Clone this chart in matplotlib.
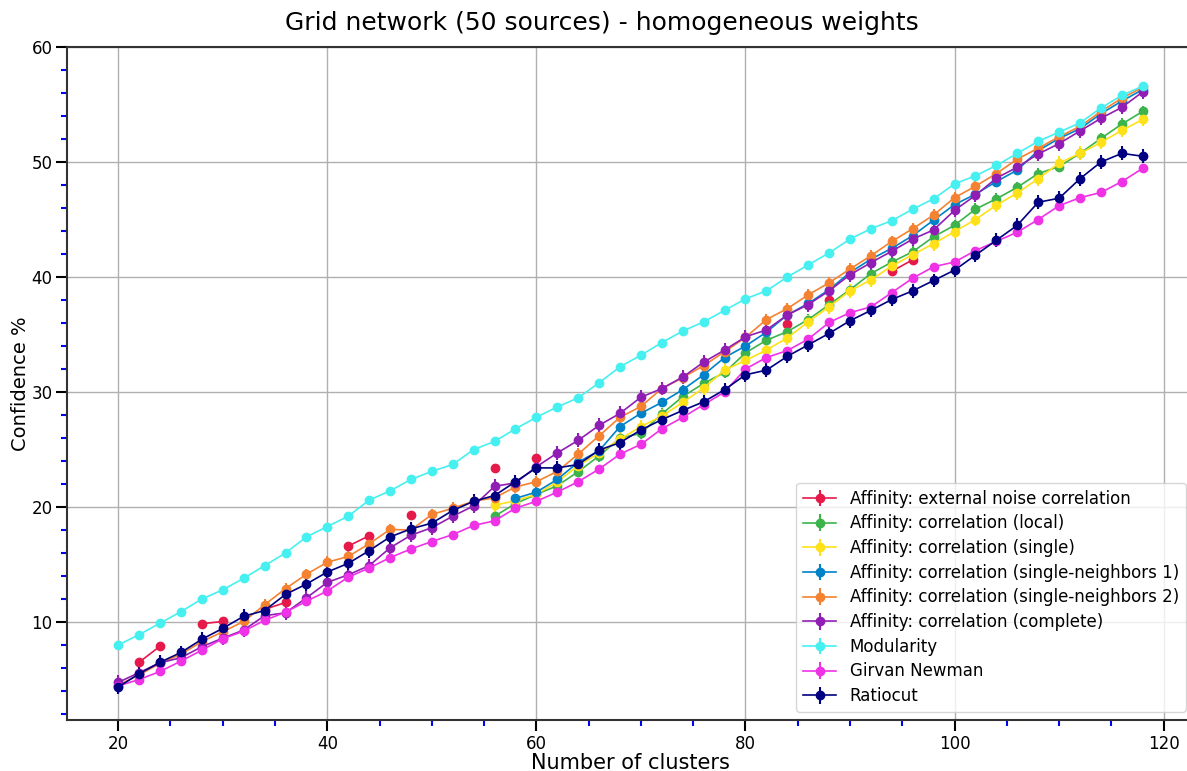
import numpy as np
from matplotlib import pyplot as plt
from matplotlib.ticker import MultipleLocator

nan = np.nan
clusters = list(range(20, 120, 2))

noise_corr = [nan, 6.5, 7.9, nan, 9.85, 10.05, nan, 11.1, 11.7, nan,
              nan, 16.6, 17.5, nan, 19.3, nan, nan, nan, 23.4, nan,
              24.3, nan, nan, nan, nan, nan, nan, nan, nan, nan,
              nan, nan, 35.9, nan, 38.0, nan, nan, 40.5, 41.5, nan,
              nan, nan, nan, nan, nan, nan, nan, nan, nan, nan]
corr_local = [nan]*18 + [19.2, 20.3, 21.1, 21.85, 23.07, 24.45, 26.0, 26.4, 28.1, 29.6,
              30.75, 31.7, 33.4, 34.5, 35.25, 36.3, 37.6, 38.9, 40.3, 41.3,
              42.2, 43.5, 44.5, 45.9, 46.8, 47.8, 49.0, 49.6, 50.75, 52.05,
              53.3, 54.4]
corr_single = [nan]*18 + [20.15, 20.55, 21.1, 22.2, 23.6, 24.7, 25.9, 27.0, 27.9, 29.1,
               30.35, 31.9, 32.75, 33.65, 34.7, 36.1, 37.42, 38.8, 39.75, 40.95,
               41.95, 42.9, 43.95, 45.0, 46.25, 47.3, 48.55, 49.9, 50.75, 51.7,
               52.75, 53.7]
corr_nb1 = [nan]*19 + [20.75, 21.3, 22.4, 23.9, 24.9, 27.0, 28.15, 29.1, 30.2, 31.5,
            33.0, 34.0, 35.2, 36.7, 37.7, 38.9, 40.4, 41.55, 42.5, 43.6,
            44.95, 46.3, 47.2, 48.3, 49.3, 51.0, 52.05, 52.9, 54.2, 55.3,
            56.3]
corr_nb2 = [4.5, 5.4, 6.4, 7.2, 8.3, 9.15, 10.05, 11.5, 12.9, 14.15,
            15.2, 15.7, 16.8, 18.05, 18.0, 19.35, 19.9, 20.5, 20.8, 21.75,
            22.2, 23.1, 24.6, 26.2, 27.8, 28.75, 30.3, 31.25, 32.3, 33.5,
            34.75, 36.3, 37.25, 38.45, 39.5, 40.7, 41.85, 43.1, 44.2, 45.4,
            46.9, 47.9, 49.0, 50.25, 51.2, 52.2, 53.1, 54.4, 55.55, 56.5]
corr_complete = [4.75, 5.6, 6.45, 6.9, 7.85, 8.6, 9.3, 10.55, 10.8, 12.1,
                 13.45, 14.1, 14.9, 16.45, 17.55, 18.2, 19.2, 20.1, 21.8, 22.1,
                 23.5, 24.7, 25.8, 27.1, 28.15, 29.55, 30.3, 31.3, 32.6, 33.65,
                 34.8, 35.4, 36.7, 37.6, 38.8, 40.2, 41.25, 42.25, 43.3, 44.1,
                 45.8, 47.1, 48.6, 49.55, 50.7, 51.6, 52.7, 53.8, 54.75, 56.1]
modularity = [8.0, 8.9, 9.9, 10.9, 12.0, 12.8, 13.8, 14.9, 16.0, 17.4,
              18.3, 19.2, 20.6, 21.4, 22.4, 23.1, 23.7, 25.0, 25.7, 26.8,
              27.8, 28.7, 29.5, 30.8, 32.2, 33.2, 34.3, 35.3, 36.1, 37.1,
              38.1, 38.8, 40.0, 41.05, 42.1, 43.3, 44.2, 44.9, 45.9, 46.8,
              48.1, 48.8, 49.7, 50.75, 51.8, 52.6, 53.4, 54.7, 55.8, 56.6]
girvan_newman = [4.45, 5.0, 5.7, 6.6, 7.55, 8.55, 9.2, 10.15, 10.85, 11.8,
                 12.7, 13.9, 14.7, 15.6, 16.35, 17.0, 17.6, 18.4, 18.8, 19.9,
                 20.5, 21.3, 22.2, 23.3, 24.6, 25.45, 26.8, 27.8, 28.9, 30.0,
                 32.0, 33.0, 33.6, 34.6, 36.05, 36.9, 37.4, 38.65, 39.9, 40.9,
                 41.3, 42.3, 43.1, 43.9, 45.0, 46.2, 46.9, 47.35, 48.3, 49.45]
ratiocut = [4.35, 5.5, 6.5, 7.35, 8.5, 9.45, 10.5, 11.0, 12.4, 13.3,
            14.35, 15.1, 16.2, 17.4, 18.1, 18.6, 19.7, 20.5, 21.0, 22.2,
            23.4, 23.4, 23.7, 24.95, 25.6, 26.7, 27.6, 28.4, 29.15, 30.2,
            31.5, 31.9, 33.1, 34.1, 35.1, 36.2, 37.1, 38.05, 38.8, 39.7,
            40.6, 41.9, 43.2, 44.5, 46.5, 46.85, 48.55, 50.0, 50.75, 50.5]

labels = ['Affinity: external noise correlation',
          'Affinity: correlation (local)',
          'Affinity: correlation (single)',
          'Affinity: correlation (single-neighbors 1)',
          'Affinity: correlation (single-neighbors 2)',
          'Affinity: correlation (complete)',
          'Modularity',
          'Girvan Newman',
          'Ratiocut']
series = [noise_corr, corr_local, corr_single, corr_nb1, corr_nb2,
          corr_complete, modularity, girvan_newman, ratiocut]
errors = [0.3, 0.5, 0.6, 0.4, 0.5, 0.6, 0.15, 0.2, 0.6]
colors = ['#e6194b', '#3cb44b', '#ffe119', '#0082c8', '#f58231',
          '#911eb4', '#46f0f0', '#f032e6', '#000080']

fig = plt.figure(figsize=(11.87, 7.71), dpi=100)
# axes run slightly past the right edge, as in the cropped original
ax = fig.add_axes([67/1187, 51/771, 1127/1187, 673/771])

for vals, err, col, lab in zip(series, errors, colors, labels):
    ax.errorbar(clusters, vals, yerr=err, color=col, marker='o',
                markersize=6, lw=1.2, elinewidth=1.5, label=lab)

ax.set_xlim(15.1, 122.9)
ax.set_ylim(1.48, 60)
ax.xaxis.set_major_locator(MultipleLocator(20))
ax.xaxis.set_minor_locator(MultipleLocator(5))
ax.yaxis.set_major_locator(MultipleLocator(10))
ax.yaxis.set_minor_locator(MultipleLocator(2))
ax.tick_params(which='major', length=8, width=1.5, labelsize=12, pad=2.5)
ax.tick_params(which='minor', length=4, width=1.5, color='blue')
ax.grid(True, which='major', color='#b0b0b0', lw=1)
for s in ax.spines.values():
    s.set_linewidth(1.5)
    s.set_color('#333333')

ax.set_title('Grid network (50 sources) - homogeneous weights', fontsize=18,
             pad=12, x=0.475)
ax.set_xlabel('Number of clusters', fontsize=15, labelpad=0)
ax.set_ylabel('Confidence %', fontsize=14, labelpad=1)
ax.legend(loc='lower right', fontsize=12, labelspacing=0.4,
          bbox_to_anchor=(1.0, 0.0))

plt.savefig('out.png', dpi=100)
